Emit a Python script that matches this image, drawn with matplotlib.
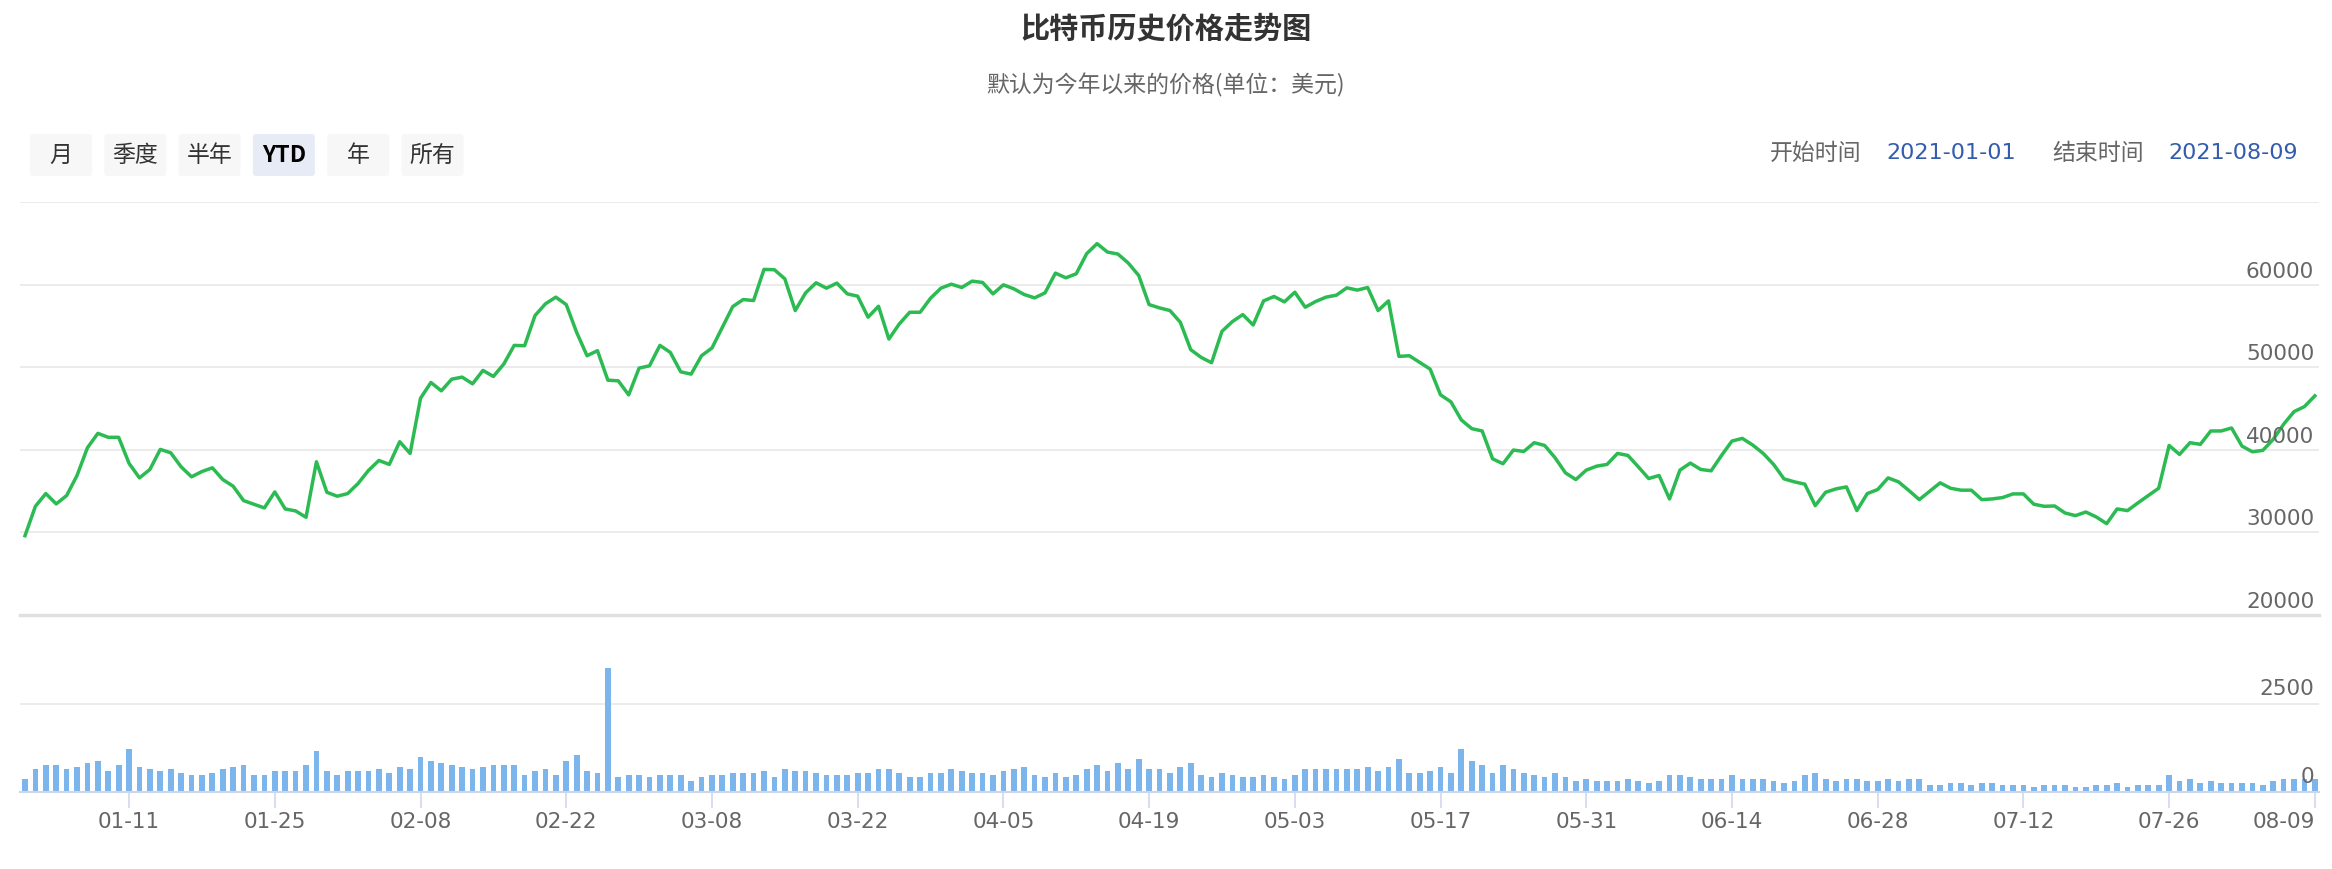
#!/usr/bin/env python3
"""
Bitcoin YTD price chart (Highstock look-alike) rendered with matplotlib.
Output: out.png, 2332x869 px
"""

import matplotlib
matplotlib.use("Agg")  # Non-interactive backend
import matplotlib.pyplot as plt
import matplotlib.transforms as mtransforms
from matplotlib.patches import FancyBboxPatch
import pandas as pd

plt.rcParams["font.family"] = ["Noto Sans CJK SC", "DejaVu Sans"]

W, H = 2332, 869

# ── Colors ───────────────────────────────────────────────
GRID   = "#e6e6e6"
GREEN  = "#2bbb52"
BAR    = "#7cb5ec"
AXIS   = "#ccd6eb"
LABEL  = "#666666"
DARK   = "#333333"
BLUE   = "#335cad"
BTN    = "#f7f7f7"
BTN_ON = "#e6ebf5"

# ── Data ─────────────────────────────────────────────────
TITLE    = "比特币历史价格走势图"
SUBTITLE = "默认为今年以来的价格(单位：美元)"
buttons  = ["月", "季度", "半年", "YTD", "年", "所有"]
selected = "YTD"
start_date = "2021-01-01"
end_date   = "2021-08-09"

dates = pd.date_range(start_date, end_date, freq="D")

prices = [
    29600, 33160, 34700, 33450, 34460, 36890, 40250, 41990, 41510, 41510,
    38350, 36600, 37620, 40050, 39640, 37940, 36730, 37370, 37820, 36400,
    35590, 33850, 33400, 32960, 34900, 32840, 32600, 31830, 38550, 34860,
    34380, 34700, 35920, 37500, 38710, 38230, 40980, 39560, 46240, 48150,
    47140, 48550, 48800, 47990, 49610, 48880, 50380, 52640, 52600, 56250,
    57670, 58480, 57580, 54220, 51390, 52000, 48430, 48350, 46650, 49890,
    50170, 52640, 51790, 49440, 49160, 51390, 52320, 54830, 57340, 58190,
    58070, 61840, 61800, 60700, 56860,
    59000, 60220, 59570, 60180, 58880, 58600, 56050, 57380, 53410, 55240,
    56650, 56650, 58350, 59570, 60050, 59650, 60420, 60260, 58880, 59970,
    59490, 58800, 58390, 59000, 61390, 60820, 61310, 63740, 64960, 63940,
    63700, 62610, 61110, 57580, 57180, 56860, 55440, 52120, 51190, 50540,
    54340, 55520, 56370, 55110, 58030, 58560, 57910, 59080, 57260, 57950,
    58480, 58720, 59610, 59330, 59650, 56860, 58030, 51310, 51390, 50580,
    49770, 46650, 45800, 43610, 42560, 42280, 38910, 38310, 39970, 39800,
    40860, 40530, 39040, 37210, 36400, 37540, 38020,
    38230, 39560, 39320, 37940, 36520, 36890, 34050, 37540, 38390, 37620,
    37460, 39320, 41060, 41380, 40570, 39560, 38230, 36480, 36120, 35840,
    33240, 34860, 35270, 35510, 32640, 34700, 35190, 36600, 36120, 35070,
    33970, 34990, 36000, 35350, 35110, 35110, 33970, 34050, 34220, 34660,
    34660, 33410, 33160, 33200, 32350, 32030, 32470, 31870, 31060, 32840,
    32640, 33570, 34460, 35350, 40530, 39440, 40860, 40660, 42280, 42280,
    42640, 40450, 39760, 39930, 41260, 43090, 44620, 45230, 46530,
]

volumes = [
    360, 650, 760, 760, 650, 700, 820, 870, 590, 760,
    1220, 700, 650, 590, 650, 530, 480, 480, 530, 650,
    700, 760, 480, 480, 590, 590, 590, 760, 1160, 590,
    480, 590, 590, 590, 650, 530, 700, 650, 990, 870,
    820, 760, 700, 650, 700, 760, 760, 760, 480, 590,
    650, 480, 870, 1050, 590, 530, 3500, 420, 480, 480,
    420, 480, 480, 480, 300, 420, 480, 480, 530, 530,
    530, 590, 420, 650, 590,
    590, 530, 480, 480, 480, 530, 530, 650, 650, 530,
    420, 420, 530, 530, 650, 590, 530, 530, 480, 590,
    650, 700, 480, 420, 530, 420, 480, 650, 760, 590,
    820, 650, 930, 650, 650, 530, 700, 820, 480, 420,
    530, 480, 420, 420, 480, 420, 360, 480, 650, 650,
    650, 650, 650, 650, 700, 590, 700, 930, 530, 530,
    590, 700, 530, 1220, 870, 760, 530, 760, 650, 530,
    480, 420, 530, 420, 300, 360, 300,
    300, 300, 360, 300, 250, 300, 480, 480, 420, 360,
    360, 360, 480, 360, 360, 360, 300, 250, 300, 480,
    530, 360, 300, 360, 360, 300, 300, 360, 300, 360,
    360, 190, 190, 250, 250, 190, 250, 250, 190, 190,
    190, 130, 190, 190, 190, 130, 130, 190, 190, 250,
    130, 190, 190, 190, 480, 300, 360, 250, 300, 250,
    250, 250, 250, 190, 300, 360, 360, 360, 360,
]

price_ticks  = [20000, 30000, 40000, 50000, 60000, 70000]
price_labels = ["20000", "30000", "40000", "50000", "60000", ""]
vol_ticks    = [0, 2500, 5000]
vol_labels   = ["0", "2500", ""]
tick_every   = 14
tick_first   = 10


def px_axes(fig, left, top, right, bottom):
    """Add axes placed by pixel box (origin top-left)."""
    return fig.add_axes([left / W, 1 - bottom / H,
                         (right - left) / W, (bottom - top) / H])


def right_labels(ax, ticks, labels, dy):
    trans = mtransforms.blended_transform_factory(ax.transAxes, ax.transData)
    for t, lab in zip(ticks, labels):
        if not lab:
            continue
        ax.annotate(lab, xy=(1, t), xycoords=trans, xytext=(-3.5, dy),
                    textcoords="offset points", ha="right", va="center",
                    fontsize=15.5, color=LABEL, family="DejaVu Sans",
                    zorder=5, annotation_clip=False)


def clean(ax):
    for s in ax.spines.values():
        s.set_visible(False)
    ax.set_facecolor("none")


fig = plt.figure(figsize=(W / 100, H / 100), dpi=100, facecolor="white")

# ── Header overlay (pixel coords) ────────────────────────
ax_o = fig.add_axes([0, 0, 1, 1])
ax_o.set_xlim(0, W)
ax_o.set_ylim(H, 0)
ax_o.axis("off")

ax_o.text(1166, 28, TITLE, ha="center", va="center", fontsize=21,
          fontweight="bold", color=DARK)
ax_o.text(1166, 85, SUBTITLE, ha="center", va="center", fontsize=16.5,
          color=LABEL)

for i, b in enumerate(buttons):
    x0 = 30 + i * 74.3
    on = b == selected
    ax_o.add_patch(FancyBboxPatch((x0, 134), 62, 42,
                                  boxstyle="round,pad=0,rounding_size=3",
                                  fc=BTN_ON if on else BTN, ec="none"))
    ax_o.text(x0 + 31, 155, b, ha="center", va="center", fontsize=16.5,
              color="black" if on else DARK,
              fontweight="bold" if on else "normal")

ax_o.text(1770, 153, "开始时间", ha="left", va="center", fontsize=16.5, color=LABEL)
ax_o.text(1886, 153, dates[0].strftime("%Y-%m-%d"), ha="left", va="center",
          fontsize=16, color=BLUE, family="DejaVu Sans")
ax_o.text(2052, 153, "结束时间", ha="left", va="center", fontsize=16.5, color=LABEL)
ax_o.text(2168, 153, dates[-1].strftime("%Y-%m-%d"), ha="left", va="center",
          fontsize=16, color=BLUE, family="DejaVu Sans")

x = list(range(len(dates)))
XLIM = (-0.48, len(dates) - 0.6)

# ── Price panel ──────────────────────────────────────────
ax_p = px_axes(fig, 20, 202, 2319, 615)
clean(ax_p)
ax_p.set_xlim(*XLIM)
ax_p.set_ylim(price_ticks[0], price_ticks[-1])
for t in price_ticks[1:]:
    ax_p.axhline(t, color=GRID, lw=1.1, zorder=0)
ax_p.axhline(price_ticks[0], color="#e0e0e0", lw=2.4, zorder=0, clip_on=False)
ax_p.plot(x, prices, color=GREEN, lw=2.5, solid_joinstyle="round", zorder=3)
ax_p.set_xticks([])
ax_p.set_yticks([])
right_labels(ax_p, price_ticks, price_labels, 9.4)

# ── Volume panel ─────────────────────────────────────────
ax_v = px_axes(fig, 20, 615, 2319, 792)
clean(ax_v)
ax_v.set_xlim(*XLIM)
ax_v.set_ylim(vol_ticks[0], vol_ticks[-1])
ax_v.axhline(vol_ticks[1], color=GRID, lw=1.1, zorder=0)
ax_v.bar(x, volumes, width=0.55, color=BAR, linewidth=0, zorder=2)
ax_v.axhline(0, color=AXIS, lw=1.5, zorder=3, clip_on=False)
ax_v.set_yticks([])
right_labels(ax_v, vol_ticks, vol_labels, 10.5)

tick_idx = list(range(tick_first, len(dates), tick_every))
ax_v.set_xticks(tick_idx)
ax_v.set_xticklabels([dates[i].strftime("%m-%d") for i in tick_idx],
                     family="DejaVu Sans")
ax_v.tick_params(axis="x", length=11.5, width=1.1, color=AXIS, pad=3,
                 labelsize=15.5, labelcolor=LABEL)
# last label is pulled inside the plot, like Highstock does
ax_v.get_xticklabels()[-1].set_horizontalalignment("right")

fig.savefig("out.png", dpi=100, facecolor="white")
plt.close(fig)
